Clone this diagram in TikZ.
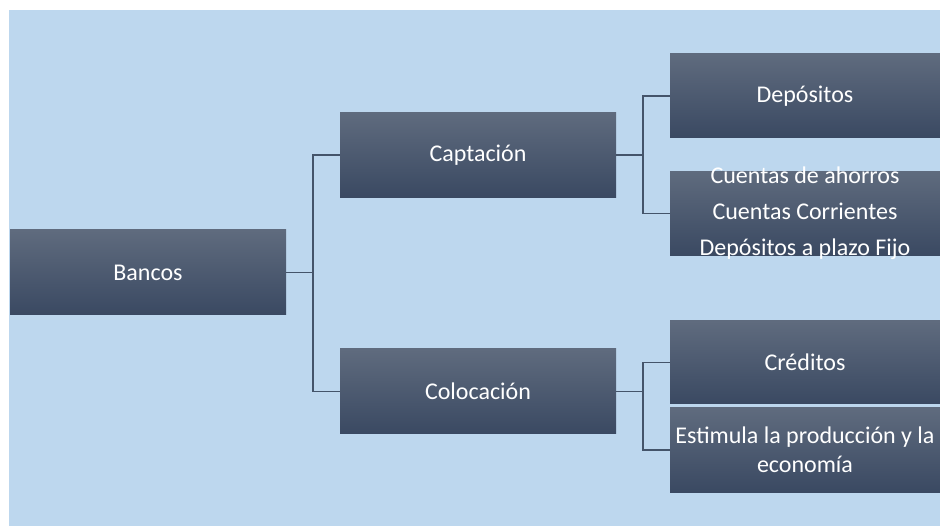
\documentclass[tikz,border=0pt]{standalone}
\usepackage{fontspec}
\setmainfont{Carlito}
\usetikzlibrary{positioning}
\definecolor{bgblue}{HTML}{BDD7EE}
\definecolor{boxtop}{HTML}{5F6B7E}
\definecolor{boxbot}{HTML}{3A4962}
\definecolor{linkgray}{HTML}{44546A}
\begin{document}
\begin{tikzpicture}[x=1pt,y=-1pt,
  box/.style={rectangle,top color=boxtop,bottom color=boxbot,draw=none,
    text=white,align=center,inner sep=2pt,
    font=\fontsize{24}{29}\selectfont},
  wide/.style={box,minimum width=276pt,minimum height=85pt},
  leaf/.style={box,minimum width=270pt,minimum height=84pt},
  boxtext/.style={text=white,align=center,inner sep=0pt,
    font=\fontsize{24}{36}\selectfont},
  link/.style={draw=linkgray,line width=1.5pt}]
  \useasboundingbox (0,0) rectangle (940,526);
  \fill[white] (0,0) rectangle (940,526);
  \fill[bgblue] (9,10) rectangle (940,526);
  \node[wide] (bancos) at (148,272.5) {Bancos};
  \node[wide] (capt) at (478,155) {Captación};
  \node[wide] (coloc) at (478,391.5) {Colocación};
  \node[leaf] (dep) at (805,96) {Depósitos};
  \node[leaf] (cta) at (805,213.5) {};
  \node[boxtext] (ctatext) at (cta) {Cuentas de ahorros\\Cuentas Corrientes\\Depósitos a plazo Fijo};
  \node[leaf,minimum height=83pt] (cred) at (805,362.5) {Créditos};
  \node[leaf] (estim) at (805,450) {Estimula la producción y la\\economía};
  \draw[link] (bancos.east) -- ++(27,0) |- (capt.west);
  \draw[link] (bancos.east) -- ++(27,0) |- (coloc.west);
  \draw[link] (capt.east) -- ++(27,0) |- (dep.west);
  \draw[link] (capt.east) -- ++(27,0) |- (cta.west);
  \draw[link] (coloc.east) -- ++(27,0) |- (cred.west);
  \draw[link] (coloc.east) -- ++(27,0) |- (estim.west);
\end{tikzpicture}
\end{document}
